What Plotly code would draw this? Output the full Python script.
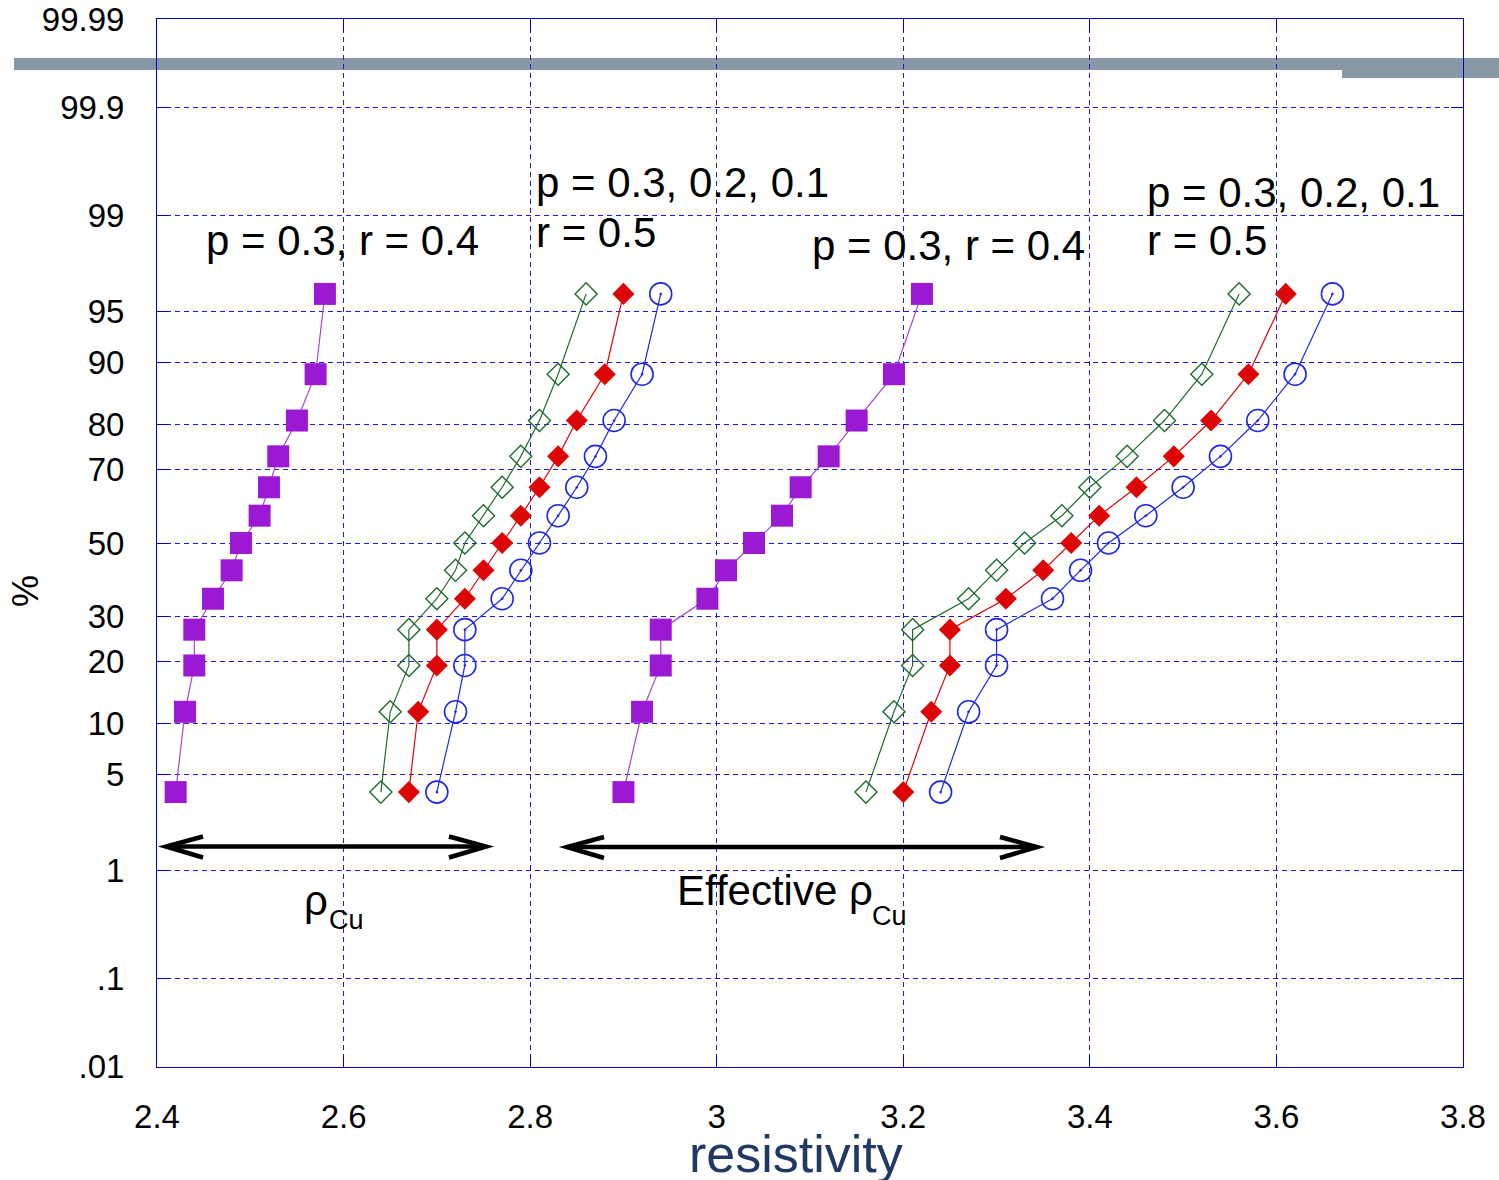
from statistics import NormalDist
import plotly.graph_objects as go

# cumulative plotting positions (%) shared by every sample of 13 lines
percent = [3.85, 11.54, 19.23, 26.92, 34.62, 42.31, 50.0, 57.69, 65.38, 73.08, 80.77, 88.46, 96.15]

# bulk copper resistivity (left group)
rho_p3_r4 = [2.42, 2.43, 2.44, 2.44, 2.46, 2.48, 2.49, 2.51, 2.52, 2.53, 2.55, 2.57, 2.58]
rho_p1_r5 = [2.64, 2.65, 2.67, 2.67, 2.70, 2.72, 2.73, 2.75, 2.77, 2.79, 2.81, 2.83, 2.86]
rho_p2_r5 = [2.67, 2.68, 2.70, 2.70, 2.73, 2.75, 2.77, 2.79, 2.81, 2.83, 2.85, 2.88, 2.90]
rho_p3_r5 = [2.70, 2.72, 2.73, 2.73, 2.77, 2.79, 2.81, 2.83, 2.85, 2.87, 2.89, 2.92, 2.94]

# effective copper resistivity (right group)
eff_p3_r4 = [2.90, 2.92, 2.94, 2.94, 2.99, 3.01, 3.04, 3.07, 3.09, 3.12, 3.15, 3.19, 3.22]
eff_p1_r5 = [3.16, 3.19, 3.21, 3.21, 3.27, 3.30, 3.33, 3.37, 3.40, 3.44, 3.48, 3.52, 3.56]
eff_p2_r5 = [3.20, 3.23, 3.25, 3.25, 3.31, 3.35, 3.38, 3.41, 3.45, 3.49, 3.53, 3.57, 3.61]
eff_p3_r5 = [3.24, 3.27, 3.30, 3.30, 3.36, 3.39, 3.42, 3.46, 3.50, 3.54, 3.58, 3.62, 3.66]

# probability-scale ticks
tick_pct = [0.01, 0.1, 1, 5, 10, 20, 30, 50, 70, 80, 90, 95, 99, 99.9, 99.99]
tick_text = [".01", ".1", "1", "5", "10", "20", "30", "50", "70", "80", "90", "95", "99", "99.9", "99.99"]
x_ticks = [2.4, 2.6, 2.8, 3.0, 3.2, 3.4, 3.6, 3.8]
x_tick_text = ["2.4", "2.6", "2.8", "3", "3.2", "3.4", "3.6", "3.8"]

nd = NormalDist()


def zscore(p):
    return nd.inv_cdf(p / 100.0)


z_pts = [zscore(p) for p in percent]
z_ticks = [zscore(p) for p in tick_pct]

PURPLE = "#9B19D3"
RED = "#DD0606"
GREEN = "#1F6B30"
BLUE = "#1E28E6"
GRID = "#1A1AE0"
FONT = "Liberation Sans, Arial, sans-serif"

series = [
    (rho_p3_r4, "square", PURPLE, 22, 0, "#A544DD"),
    (rho_p1_r5, "diamond-open", GREEN, 17, 1.4, GREEN),
    (rho_p2_r5, "diamond", RED, 17, 0, RED),
    (rho_p3_r5, "circle-open-dot", BLUE, 22, 1.6, BLUE),
    (eff_p3_r4, "square", PURPLE, 22, 0, "#A544DD"),
    (eff_p1_r5, "diamond-open", GREEN, 17, 1.4, GREEN),
    (eff_p2_r5, "diamond", RED, 17, 0, RED),
    (eff_p3_r5, "circle-open-dot", BLUE, 22, 1.6, BLUE),
]

fig = go.Figure()
for xs, sym, col, size, mlw, lcol in series:
    fig.add_trace(go.Scatter(
        x=xs, y=z_pts, mode="lines+markers",
        line=dict(color=lcol, width=1.2),
        marker=dict(symbol=sym, size=size, color=col,
                    line=dict(color=col, width=mlw)),
        showlegend=False, hoverinfo="skip",
    ))

# plot-area geometry in pixels
L, R, T, B = 157, 1463, 19, 1067
W, H = 1499, 1180


def fx(px):
    return (px - L) / (R - L)


def fy(py):
    return (B - py) / (B - T)


def seg_path(points):
    return " ".join(
        ("M" if i == 0 else "L") + f" {fx(x):.5f},{fy(y):.5f}"
        for i, (x, y) in enumerate(points)
    )


shapes = []
# grey bar across the top
shapes.append(dict(type="rect", xref="paper", yref="paper",
                   x0=fx(14), x1=fx(1499), y0=fy(70), y1=fy(58),
                   fillcolor="#8799A6", line=dict(width=0), layer="below"))
shapes.append(dict(type="rect", xref="paper", yref="paper",
                   x0=fx(1342), x1=fx(1499), y0=fy(78), y1=fy(58),
                   fillcolor="#8799A6", line=dict(width=0), layer="below"))

# double-headed range arrows
for x_left, x_right, yy in [(166, 486, 846.5), (567, 1037, 847)]:
    arrow_line = dict(color="black", width=4.5)
    shapes.append(dict(type="path", xref="paper", yref="paper",
                       path=seg_path([(x_left, yy), (x_right, yy)]), line=arrow_line))
    shapes.append(dict(type="path", xref="paper", yref="paper",
                       path=seg_path([(x_left + 37, yy - 10), (x_left, yy), (x_left + 37, yy + 11)]),
                       line=arrow_line))
    shapes.append(dict(type="path", xref="paper", yref="paper",
                       path=seg_path([(x_right - 37, yy - 10), (x_right, yy), (x_right - 37, yy + 11)]),
                       line=arrow_line))

annotations = []


def label(text, x, y, size=42, xanchor="left", color="black", angle=0):
    annotations.append(dict(
        text=text, x=fx(x), y=fy(y), xref="paper", yref="paper",
        xanchor=xanchor, yanchor="middle", showarrow=False, textangle=angle,
        font=dict(family=FONT, size=size, color=color),
    ))


label("p = 0.3, r = 0.4", 204, 240)
label("p = 0.3, 0.2, 0.1", 534, 182)
label("r = 0.5", 534, 232)
label("p = 0.3, r = 0.4", 810, 245)
label("p = 0.3, 0.2, 0.1", 1145, 192)
label("r = 0.5", 1145, 240)
# rho with a deep subscript
label("ρ", 302, 900)
label("Cu", 327, 920, size=27)
label("Effective ρ", 675, 890)
label("Cu", 870, 916, size=27)
label("resistivity", 796, 1154, size=52, xanchor="center", color="#1F3864")
label("%", 25, 591, size=36, xanchor="center", angle=-90)

axis_common = dict(
    showline=True, linecolor="#0000CC", linewidth=1, mirror="ticks",
    ticks="inside", ticklen=12, tickcolor="#0000CC", tickwidth=1,
    showgrid=True, gridcolor=GRID, gridwidth=1, griddash="5px,4px",
    zeroline=False, automargin=False,
    tickfont=dict(family=FONT, size=33, color="black"),
)

fig.update_layout(
    width=W, height=H,
    margin=dict(l=L, r=W - R, t=T, b=H - B),
    paper_bgcolor="white", plot_bgcolor="rgba(0,0,0,0)",
    xaxis=dict(range=[2.4, 3.8], tickvals=x_ticks, ticktext=x_tick_text,
               ticklabelstandoff=20, **axis_common),
    yaxis=dict(range=[z_ticks[0] - 0.001, z_ticks[-1] + 0.001],
               tickvals=z_ticks, ticktext=tick_text,
               ticklabelstandoff=25, **axis_common),
    shapes=shapes, annotations=annotations,
)

fig.write_html("out.html")
